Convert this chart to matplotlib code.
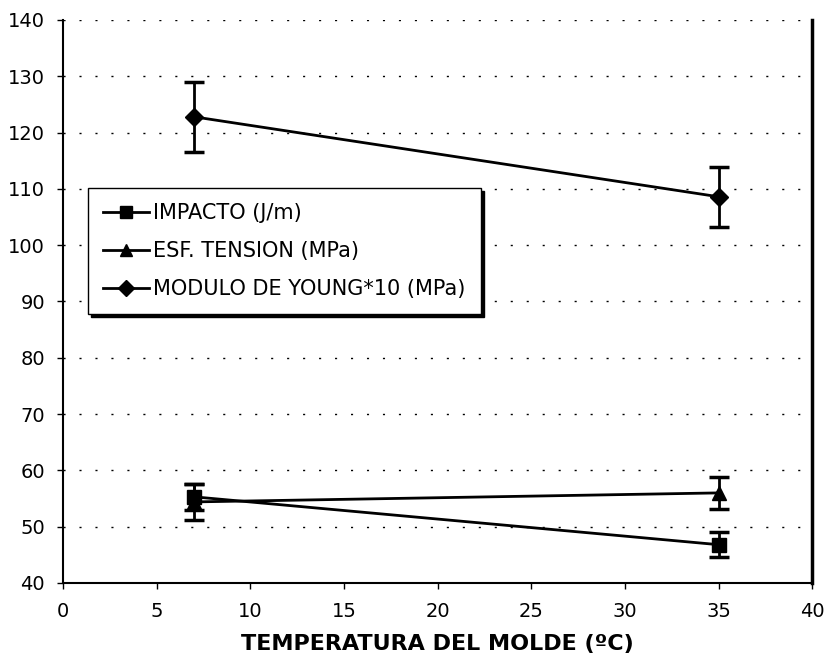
import matplotlib
matplotlib.use("Agg")
import matplotlib.pyplot as plt
from matplotlib.lines import Line2D

plt.rcParams['font.family'] = ['DejaVu Sans']

# mould temperature (ºC)
temperatura = [7, 35]

# measured properties with their error bars
impacto = [55.3, 46.8]
impacto_err = [2.3, 2.2]
tension = [54.4, 56.0]
tension_err = [3.2, 2.8]
young = [122.8, 108.6]
young_err = [6.2, 5.3]

series = [
    ("IMPACTO (J/m)", impacto, impacto_err, "s", 10),
    ("ESF. TENSION (MPa)", tension, tension_err, "^", 10),
    ("MODULO DE YOUNG*10 (MPa)", young, young_err, "D", 9),
]

fig = plt.figure(figsize=(8.29, 6.6), dpi=100)
ax = fig.add_axes([0.076, 0.1167, 0.904, 0.853])

# sparse dotted horizontal grid
for yv in range(50, 141, 10):
    ax.axhline(yv, color="black", lw=1.0, ls=(0, (1.5, 10)), zorder=0)

handles = []
for label, vals, err, mk, ms in series:
    ax.errorbar(temperatura, vals, yerr=err, color="black", lw=2,
                marker=mk, markersize=ms, elinewidth=2, capsize=7,
                capthick=2.5)
    handles.append(Line2D([], [], color="black", lw=2, marker=mk,
                          markersize=ms - 1, label=label))

ax.set_xlim(0, 40)
ax.set_ylim(40, 140)
ax.set_xticks(range(0, 41, 5))
ax.set_yticks(range(40, 141, 10))
ax.tick_params(labelsize=14, direction="out", length=4, width=1)
ax.tick_params(axis="x", pad=10)
ax.tick_params(axis="y", pad=9)
ax.spines["top"].set_visible(False)
for s in ["left", "bottom"]:
    ax.spines[s].set_linewidth(1.5)
ax.spines["right"].set_linewidth(2.5)

ax.set_xlabel("TEMPERATURA DEL MOLDE (ºC)", fontsize=16, fontweight="bold",
              labelpad=9)

leg = ax.legend(handles=handles, loc="upper left",
                bbox_to_anchor=(0.033, 0.702),
                fontsize=15, frameon=True, fancybox=False,
                shadow={"color": "black", "alpha": 1.0, "ox": 2, "oy": -2},
                edgecolor="black", handlelength=2.2, borderpad=0.75,
                labelspacing=0.85, handletextpad=0.2, borderaxespad=0)
leg.get_frame().set_linewidth(1.0)

fig.savefig("out.png", dpi=100)
